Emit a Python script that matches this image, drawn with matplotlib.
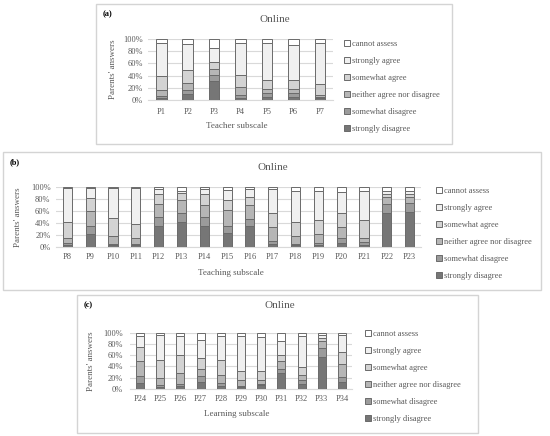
import numpy as np
import matplotlib
matplotlib.use("Agg")
import matplotlib.pyplot as plt
from matplotlib.patches import Rectangle

plt.rcParams['font.family'] = ['Liberation Serif', 'DejaVu Serif']

W, H = 550, 436

categories = ['strongly disagree', 'somewhat disagree', 'neither agree nor disagree',
              'somewhat agree', 'strongly agree', 'cannot assess']
colors = ['#767676', '#9b9b9b', '#b6b6b6', '#d3d3d3', '#f0f0f0', '#ffffff']

# --- (a) Teacher subscale ---
items_a = ['P1', 'P2', 'P3', 'P4', 'P5', 'P6', 'P7']
sd_a = [3, 10, 31, 4, 5, 5, 3]
swd_a = [3, 7, 10, 4, 6, 6, 2]
neu_a = [10, 11, 10, 13, 7, 7, 4]
swa_a = [24, 21, 12, 20, 14, 14, 17]
sa_a = [54, 43, 22, 52, 62, 58, 68]
ca_a = [6, 8, 15, 7, 6, 10, 6]

# --- (b) Teaching subscale ---
items_b = ['P8', 'P9', 'P10', 'P11', 'P12', 'P13', 'P14', 'P15',
           'P16', 'P17', 'P18', 'P19', 'P20', 'P21', 'P22', 'P23']
sd_b = [3, 21, 3, 3, 35, 41, 35, 22, 34, 5, 3, 3, 6, 3, 57, 58]
swd_b = [3, 14, 2, 2, 15, 16, 14, 13, 12, 4, 2, 3, 9, 5, 14, 15]
neu_b = [9, 24, 12, 9, 22, 21, 20, 27, 23, 23, 13, 15, 18, 6, 12, 11]
swa_b = [27, 22, 31, 24, 17, 12, 19, 16, 14, 25, 23, 24, 23, 30, 6, 5]
sa_b = [56, 17, 51, 61, 8, 4, 9, 17, 13, 39, 53, 48, 36, 50, 4, 5]
ca_b = [2, 2, 1, 1, 3, 6, 3, 5, 4, 4, 6, 7, 8, 6, 7, 6]

# --- (c) Learning subscale ---
items_c = ['P24', 'P25', 'P26', 'P27', 'P28', 'P29', 'P30', 'P31', 'P32', 'P33', 'P34']
sd_c = [11, 3, 4, 12, 5, 3, 6, 28, 9, 57, 12]
swd_c = [12, 3, 4, 10, 5, 2, 3, 8, 6, 16, 9]
neu_c = [27, 14, 21, 13, 14, 10, 6, 14, 9, 13, 24]
swa_c = [25, 31, 31, 20, 28, 16, 16, 10, 15, 5, 21]
sa_c = [19, 45, 34, 32, 43, 63, 61, 25, 56, 5, 30]
ca_c = [6, 4, 6, 13, 5, 6, 8, 15, 5, 4, 4]

text_col = '#595959'


def px_rect(x0, y0, x1, y1):
    return [x0 / W, 1 - y1 / H, (x1 - x0) / W, (y1 - y0) / H]


def panel(fig, box, axrect, items, series, tag, xlabel, title_xy, leg_xy,
          xpad, ypad, ylab_x, xlab_y):
    # frame around the panel
    bx0, by0, bx1, by1 = box
    fig.add_artist(Rectangle((bx0 / W, 1 - by1 / H), (bx1 - bx0) / W, (by1 - by0) / H,
                             transform=fig.transFigure, fill=False,
                             edgecolor='#d4d4d4', linewidth=1.0))
    fig.text((bx0 + 7) / W, 1 - (by0 + 10) / H, tag, fontsize=6, fontweight='bold',
             color='black', va='center', ha='left')
    fig.text(title_xy[0] / W, 1 - title_xy[1] / H, 'Online', fontsize=8,
             color=text_col, ha='center', va='center')

    ax = fig.add_axes(px_rect(*axrect))
    x = np.arange(len(items))
    bottom = np.zeros(len(items))
    handles = []
    for vals, col, lab in zip(series, colors, categories):
        h = ax.bar(x, vals, 0.4, bottom=bottom, color=col, edgecolor='#6a6a6a',
                   linewidth=0.7, label=lab, zorder=3)
        handles.append(h)
        bottom += np.array(vals)

    ax.set_xlim(-0.5, len(items) - 0.5)
    ax.set_ylim(0, 100)
    ax.set_yticks(range(0, 101, 20))
    ax.set_yticklabels([f'{v}%' for v in range(0, 101, 20)])
    ax.set_xticks(x)
    ax.set_xticklabels(items)
    ax.tick_params(axis='x', length=0, pad=xpad, labelsize=6, labelcolor=text_col)
    ax.tick_params(axis='y', length=0, pad=ypad, labelsize=6, labelcolor=text_col)
    ax.grid(axis='y', color='#d9d9d9', linewidth=0.8, zorder=0)
    for s in ['top', 'right', 'left']:
        ax.spines[s].set_visible(False)
    ax.spines['bottom'].set_color('#d9d9d9')
    ax.set_facecolor('none')

    ax.set_ylabel("Parents' answers", fontsize=6.5, color=text_col)
    ax_x0, ax_y0, ax_x1, ax_y1 = axrect
    ax.yaxis.set_label_coords((ylab_x - ax_x0) / (ax_x1 - ax_x0), 0.5)
    ax.set_xlabel(xlabel, fontsize=6.5, color=text_col)
    ax.xaxis.set_label_coords(0.48, -(xlab_y - ax_y1) / (ax_y1 - ax_y0))
    ax.xaxis.label.set_va('center')

    leg = ax.legend(handles[::-1], categories[::-1], loc='upper left',
                    bbox_to_anchor=(leg_xy[0] / W, 1 - leg_xy[1] / H),
                    bbox_transform=fig.transFigure, frameon=False, fontsize=6,
                    handlelength=0.75, handleheight=0.75, handletextpad=0.25,
                    labelspacing=1.07, borderpad=0, borderaxespad=0)
    for t in leg.get_texts():
        t.set_color(text_col)
    return ax


fig = plt.figure(figsize=(5.5, 4.36), dpi=100)

panel(fig, (96, 4, 452, 144), (148, 39, 333, 100), items_a,
      [sd_a, swd_a, neu_a, swa_a, sa_a, ca_a], '(a)', 'Teacher subscale',
      (275, 20), (344, 40), 6, 3.5, 117, 126)

panel(fig, (3, 152, 541, 290), (56, 187, 421, 246.5), items_b,
      [sd_b, swd_b, neu_b, swa_b, sa_b, ca_b], '(b)', 'Teaching subscale',
      (273, 167), (436, 187), 5, 4, 22, 273)

panel(fig, (77, 295, 478, 433), (130, 333, 352, 388.7), items_c,
      [sd_c, swd_c, neu_c, swa_c, sa_c, ca_c], '(c)', 'Learning subscale',
      (280, 305), (365, 330), 4.5, 5, 95, 414)

fig.savefig('out.png', dpi=100)
